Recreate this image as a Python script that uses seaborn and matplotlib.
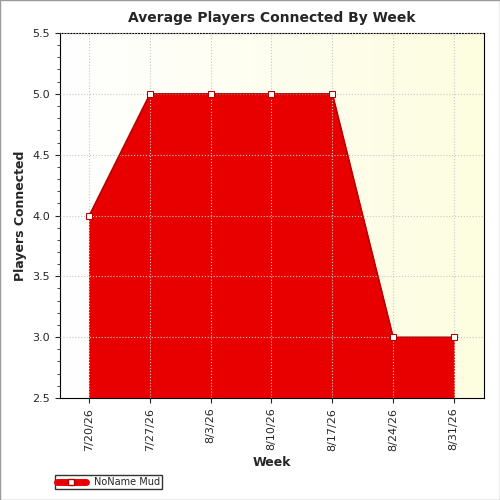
import numpy as np
import pandas as pd
import seaborn as sns
import matplotlib.pyplot as plt
from matplotlib.patches import Rectangle
from matplotlib.lines import Line2D

weeks = ['7/20/26', '7/27/26', '8/3/26', '8/10/26', '8/17/26', '8/24/26', '8/31/26']
players = [4, 5, 5, 5, 5, 3, 3]
series_name = 'NoName Mud'

df = pd.DataFrame({'week': weeks, 'players': players, 'idx': range(len(weeks))})

sns.set_style('ticks')
fig = plt.figure(figsize=(5, 5), dpi=100)
ax = fig.add_axes([0.12, 0.204, 0.848, 0.73])

# light yellow gradient background
grad = np.linspace(0, 1, 256).reshape(1, -1)
ax.imshow(grad, extent=[-0.48, 6.5, 2.5, 5.5], aspect='auto', zorder=0,
          cmap=plt.matplotlib.colors.LinearSegmentedColormap.from_list('bg', ['#ffffff', '#fdfde0']))

ax.fill_between(df['idx'], 2.5, df['players'], color='#e80000', zorder=2)
sns.lineplot(data=df, x='idx', y='players', ax=ax, color='#b00000', lw=1,
             marker='s', markersize=5, markerfacecolor='white',
             markeredgecolor='#b00000', zorder=3)

ax.set_xlim(-0.48, 6.5)
ax.set_ylim(2.5, 5.5)
ax.set_xticks(df['idx'])
ax.set_xticklabels(weeks, rotation=90, fontsize=8)
ax.set_yticks(np.arange(2.5, 5.51, 0.5))
ax.set_yticks(np.arange(2.5, 5.51, 0.1), minor=True)
ax.tick_params(axis='y', labelsize=8)
ax.grid(True, linestyle=':', color='#c8c8c8', lw=0.8)
ax.set_axisbelow(False)
for s in ax.spines.values():
    s.set_color('black')
ax.set_xlabel('Week', fontsize=9, fontweight='bold')
ax.set_ylabel('Players Connected', fontsize=9, fontweight='bold')
ax.set_title('Average Players Connected By Week', fontsize=10, fontweight='bold', pad=8)

handle = Line2D([], [], color='#e80000', lw=5, marker='s', markersize=5,
                markerfacecolor='white', markeredgecolor='#b00000')
fig.legend([handle], [series_name], loc='lower left', bbox_to_anchor=(0.1, 0.012),
           fontsize=7, frameon=True, fancybox=False, edgecolor='black',
           borderpad=0.2, handlelength=3)

fig.patches.append(Rectangle((0, 0), 1, 1, transform=fig.transFigure,
                             fill=False, edgecolor='#999999', lw=1))
fig.savefig('out.png', dpi=100)
